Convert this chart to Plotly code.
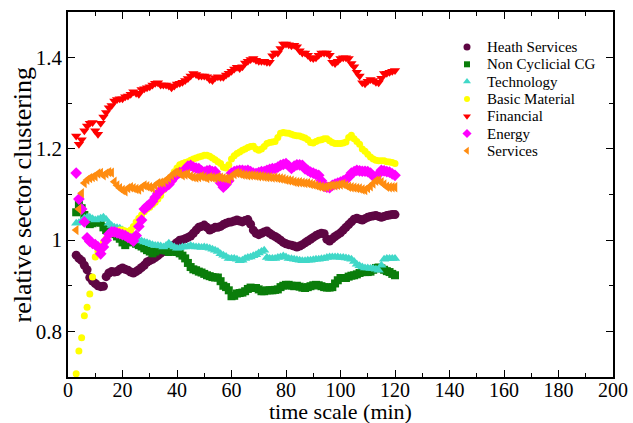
import plotly.graph_objects as go

time_min = list(range(3, 121))

heath_services = [
    0.967, 0.96, 0.955, 0.945, 0.935, 0.918, 0.91, 0.905, 0.9, 0.898,
    0.899, 0.92, 0.928, 0.931, 0.93, 0.931, 0.936, 0.939, 0.936, 0.934,
    0.93, 0.928, 0.931, 0.935, 0.94, 0.945, 0.952, 0.955, 0.958, 0.962,
    0.966, 0.971, 0.975, 0.978, 0.982, 0.986, 0.99, 0.995, 1.0, 1.001,
    1.003, 1.006, 1.009, 1.015, 1.022, 1.028, 1.03, 1.033, 1.028, 1.022,
    1.025, 1.028, 1.028, 1.03, 1.034, 1.037, 1.039, 1.04, 1.042, 1.044,
    1.042, 1.04, 1.043, 1.045, 1.035, 1.022, 1.015, 1.012, 1.015, 1.018,
    1.02, 1.015, 1.011, 1.008, 1.004, 1.0, 0.995, 0.992, 0.99, 0.989,
    0.987, 0.985, 0.987, 0.99, 0.994, 0.998, 1.002, 1.006, 1.01, 1.013,
    1.015, 1.014, 1.002, 0.998, 1.003, 1.008, 1.012, 1.016, 1.022, 1.028,
    1.034, 1.04, 1.046, 1.048, 1.046, 1.044, 1.047, 1.05, 1.052, 1.053,
    1.054, 1.052, 1.05, 1.052, 1.054, 1.055, 1.056, 1.056,
]

non_cyclical_cg = [
    1.061, 1.078, 1.07, 1.055, 1.045, 1.035, 1.037, 1.04, 1.04, 1.038,
    1.028, 1.022, 1.017, 1.015, 1.013, 1.008, 1.003, 0.995, 0.989, 0.995,
    1.0, 0.996, 0.992, 0.989, 0.986, 0.982, 0.978, 0.975, 0.971, 0.975,
    0.978, 0.98, 0.98, 0.977, 0.974, 0.975, 0.976, 0.974, 0.971, 0.966,
    0.96, 0.95, 0.941, 0.936, 0.934, 0.931, 0.929, 0.926, 0.923, 0.921,
    0.919, 0.918, 0.918, 0.91, 0.9, 0.897, 0.89, 0.877, 0.878, 0.883,
    0.884, 0.885, 0.888, 0.893, 0.896, 0.895, 0.895, 0.892, 0.888, 0.888,
    0.89, 0.89, 0.89, 0.891, 0.892, 0.897, 0.9, 0.902, 0.902, 0.9,
    0.899, 0.9, 0.898, 0.896, 0.895, 0.897, 0.899, 0.901, 0.902, 0.901,
    0.899, 0.897, 0.896, 0.896, 0.897, 0.905, 0.912, 0.917, 0.917, 0.917,
    0.92, 0.922, 0.923, 0.925, 0.928, 0.93, 0.93, 0.93, 0.931, 0.935,
    0.939, 0.94, 0.938, 0.935, 0.932, 0.93, 0.926, 0.923,
]

technology = [
    1.037, 1.038, 1.042, 1.048, 1.05, 1.05, 1.047, 1.044, 1.046, 1.048,
    1.05, 1.045, 1.037, 1.032, 1.028, 1.027, 1.026, 1.022, 1.018, 1.013,
    1.011, 1.008, 1.004, 1.0, 0.998, 0.996, 0.994, 0.992, 0.99, 0.988,
    0.988, 0.987, 0.985, 0.988, 0.993, 0.988, 0.985, 0.982, 0.983, 0.985,
    0.985, 0.986, 0.988, 0.986, 0.985, 0.985, 0.984, 0.985, 0.984, 0.982,
    0.98, 0.978, 0.975, 0.97, 0.967, 0.964, 0.96, 0.96, 0.96, 0.958,
    0.955, 0.956, 0.96, 0.962, 0.963, 0.966, 0.968, 0.972, 0.975, 0.978,
    0.962, 0.96, 0.96, 0.96, 0.962, 0.963, 0.965, 0.963, 0.96, 0.959,
    0.958, 0.957, 0.956, 0.955, 0.955, 0.956, 0.956, 0.957, 0.958, 0.958,
    0.959, 0.96, 0.962, 0.963, 0.963, 0.963, 0.963, 0.962, 0.962, 0.961,
    0.96, 0.958, 0.953, 0.947, 0.944, 0.941, 0.939, 0.939, 0.938, 0.938,
    0.936, 0.934, 0.945, 0.958, 0.96, 0.96, 0.96, 0.96,
]

basic_material = [
    0.707, 0.757, 0.786, 0.834, 0.853, 0.882, 0.919, 0.963, 0.975, 0.985,
    0.995, 1.003, 1.011, 1.015, 1.018, 1.02, 1.022, 1.022, 1.02, 1.018,
    1.022, 1.03, 1.04, 1.048, 1.055, 1.062, 1.068, 1.072, 1.078, 1.083,
    1.09, 1.098, 1.11, 1.122, 1.13, 1.138, 1.15, 1.158, 1.165, 1.168,
    1.17, 1.172, 1.175, 1.178, 1.18, 1.182, 1.184, 1.186, 1.186, 1.184,
    1.18, 1.176, 1.172, 1.168, 1.16, 1.158, 1.165, 1.178, 1.185, 1.19,
    1.193, 1.197, 1.2, 1.203, 1.205, 1.206, 1.2, 1.197, 1.2, 1.205,
    1.212, 1.214, 1.215, 1.216, 1.225, 1.234, 1.236, 1.235, 1.234, 1.232,
    1.23, 1.229, 1.228, 1.226, 1.224, 1.22, 1.214, 1.213, 1.216, 1.219,
    1.22, 1.222, 1.222, 1.218, 1.214, 1.212, 1.212, 1.212, 1.213, 1.215,
    1.225, 1.23, 1.222, 1.216, 1.21, 1.2, 1.195, 1.188, 1.182, 1.178,
    1.175, 1.174, 1.174, 1.174, 1.172, 1.171, 1.17, 1.168,
]

financial = [
    1.228, 1.21, 1.22, 1.24, 1.25, 1.256, 1.258, 1.24, 1.232, 1.256,
    1.27, 1.28, 1.29, 1.295, 1.305, 1.308, 1.31, 1.31, 1.314, 1.316,
    1.32, 1.325, 1.322, 1.32, 1.33, 1.332, 1.334, 1.336, 1.34, 1.344,
    1.345, 1.34, 1.34, 1.34, 1.338, 1.334, 1.338, 1.342, 1.344, 1.346,
    1.35, 1.354, 1.36, 1.365, 1.363, 1.36, 1.36, 1.36, 1.358, 1.352,
    1.35, 1.356, 1.358, 1.357, 1.357, 1.362, 1.366, 1.37, 1.375, 1.379,
    1.376, 1.38, 1.388, 1.392, 1.396, 1.398, 1.394, 1.392, 1.392, 1.392,
    1.39, 1.39, 1.404, 1.41, 1.41, 1.42, 1.43, 1.43, 1.428, 1.426,
    1.427, 1.424, 1.415, 1.41, 1.41, 1.405, 1.40, 1.398, 1.40, 1.405,
    1.41, 1.41, 1.41, 1.405, 1.39, 1.387, 1.392, 1.398, 1.40, 1.40,
    1.398, 1.387, 1.38, 1.368, 1.36, 1.345, 1.343, 1.348, 1.352, 1.35,
    1.346, 1.345, 1.355, 1.365, 1.366, 1.368, 1.37, 1.372,
]

energy = [
    1.147, 1.09, 1.068, 1.04, 1.005, 0.997, 0.993, 0.99, 0.985, 0.97,
    0.985, 1.0, 1.013, 1.018, 1.018, 1.016, 1.014, 1.012, 1.01, 1.006,
    1.003, 0.998, 1.01, 1.03, 1.044, 1.068, 1.074, 1.078, 1.085, 1.094,
    1.103, 1.108, 1.116, 1.118, 1.122, 1.13, 1.138, 1.145, 1.148, 1.149,
    1.155, 1.162, 1.164, 1.16, 1.158, 1.157, 1.152, 1.149, 1.152, 1.153,
    1.15, 1.15, 1.14, 1.125, 1.116, 1.122, 1.13, 1.147, 1.15, 1.152,
    1.153, 1.153, 1.152, 1.153, 1.15, 1.147, 1.146, 1.148, 1.15, 1.15,
    1.153, 1.155, 1.157, 1.157, 1.16, 1.164, 1.166, 1.168, 1.163, 1.157,
    1.162, 1.165, 1.165, 1.164, 1.156, 1.153, 1.149, 1.147, 1.144, 1.142,
    1.13, 1.118, 1.116, 1.115, 1.12, 1.123, 1.125, 1.127, 1.13, 1.133,
    1.138, 1.147, 1.15, 1.153, 1.152, 1.151, 1.151, 1.15, 1.147, 1.14,
    1.136, 1.145, 1.153, 1.152, 1.15, 1.149, 1.145, 1.142,
]

services = [
    1.022, 1.068, 1.103, 1.125, 1.132, 1.136, 1.138, 1.14, 1.146, 1.147,
    1.142, 1.146, 1.149, 1.148, 1.128, 1.12, 1.114, 1.11, 1.107, 1.114,
    1.116, 1.114, 1.112, 1.111, 1.116, 1.12, 1.118, 1.116, 1.114, 1.12,
    1.125, 1.126, 1.127, 1.132, 1.136, 1.142, 1.147, 1.149, 1.146, 1.142,
    1.144, 1.145, 1.14, 1.138, 1.137, 1.138, 1.14, 1.138, 1.136, 1.138,
    1.137, 1.136, 1.138, 1.137, 1.136, 1.135, 1.133, 1.14, 1.145, 1.147,
    1.146, 1.144, 1.143, 1.142, 1.142, 1.142, 1.141, 1.14, 1.14, 1.139,
    1.138, 1.138, 1.137, 1.137, 1.136, 1.135, 1.134, 1.132, 1.131, 1.13,
    1.128, 1.127, 1.127, 1.126, 1.125, 1.125, 1.123, 1.122, 1.12, 1.118,
    1.117, 1.116, 1.117, 1.119, 1.12, 1.12, 1.121, 1.122, 1.123, 1.12,
    1.117, 1.116, 1.115, 1.114, 1.113, 1.111, 1.11, 1.114, 1.118, 1.124,
    1.13, 1.131, 1.127, 1.122, 1.117, 1.116, 1.116, 1.116,
]

series_names = ["Heath Services", "Non Cyclicial CG", "Technology", "Basic Material",
                "Financial", "Energy", "Services"]
series_values = [heath_services, non_cyclical_cg, technology, basic_material,
                 financial, energy, services]

x_tick_vals = [0, 20, 40, 60, 80, 100, 120, 140, 160, 180, 200]
y_tick_vals = [0.8, 1.0, 1.2, 1.4]
y_tick_text = ["0.8", "1", "1.2", "1.4"]
x_title = "time scale (min)"
y_title = "relative sector clustering"

styles = [
    dict(symbol="circle", color="#5e0643", size=9, lsize=7),
    dict(symbol="square", color="#0a7d0a", size=8, lsize=6),
    dict(symbol="triangle-up", color="#40d8c8", size=9, lsize=7),
    dict(symbol="circle", color="#ffff00", size=7, lsize=6),
    dict(symbol="triangle-down", color="#ff0000", size=9, lsize=7),
    dict(symbol="diamond", color="#ff00ff", size=9, lsize=7),
    dict(symbol="triangle-left", color="#ff8c10", size=9, lsize=7),
]

serif = "Liberation Serif"

W, H = 633, 423
# plot area in pixels
PX_L, PX_R, PX_T, PX_B = 68, 613, 12, 377


def px_to_paper_x(px):
    return (px - PX_L) / (PX_R - PX_L)


def px_to_paper_y(py):
    return (PX_B - py) / (PX_B - PX_T)


key_x_marker = 467
key_x_text = 485
key_y0 = 47
key_dy = 17.3

fig = go.Figure()
for name, vals, st in zip(series_names, series_values, styles):
    n = min(len(time_min), len(vals))
    fig.add_trace(go.Scatter(
        x=time_min[:n], y=vals[:n], mode="markers", name=name,
        marker=dict(symbol=st["symbol"], color=st["color"], size=st["size"],
                    line=dict(width=0)),
        showlegend=False,
    ))

# key (legend) drawn on an overlay axis whose units are pixels
for i, (name, st) in enumerate(zip(series_names, styles)):
    ky = key_y0 + i * key_dy
    fig.add_trace(go.Scatter(
        x=[key_x_marker], y=[ky], mode="markers", xaxis="x2", yaxis="y2",
        marker=dict(symbol=st["symbol"], color=st["color"], size=st["lsize"], line=dict(width=0)),
        showlegend=False, hoverinfo="skip",
    ))
    fig.add_annotation(x=key_x_text, y=ky, xref="x2", yref="y2", text=name,
                       showarrow=False, xanchor="left", yanchor="middle",
                       font=dict(family=serif, size=15, color="black"))

# axis titles
fig.add_annotation(x=0.5, y=px_to_paper_y(411.5), xref="paper", yref="paper", text=x_title,
                   showarrow=False, xanchor="center", yanchor="middle",
                   font=dict(family=serif, size=22, color="black"))
fig.add_annotation(x=px_to_paper_x(22), y=0.5, xref="paper", yref="paper", text=y_title,
                   showarrow=False, xanchor="center", yanchor="middle", textangle=-90,
                   font=dict(family=serif, size=26, color="black"))

fig.update_layout(
    width=W, height=H,
    margin=dict(l=PX_L, r=W - PX_R, t=PX_T, b=H - PX_B),
    paper_bgcolor="white", plot_bgcolor="white",
    font=dict(family=serif, color="black", size=18),
    showlegend=False,
    xaxis=dict(range=[0, 200], tickvals=x_tick_vals, ticks="inside", ticklen=7,
               tickwidth=1, tickcolor="black", automargin=False, ticklabelstandoff=-6,
               minor=dict(dtick=10, ticks="inside", ticklen=4, tickcolor="black", showgrid=False),
               showline=True, linecolor="black", linewidth=1.5, mirror="ticks",
               showgrid=False, zeroline=False,
               tickfont=dict(family=serif, size=20)),
    yaxis=dict(range=[0.7, 1.5], tickvals=y_tick_vals, ticktext=y_tick_text,
               ticks="inside", ticklen=7, tickwidth=1, tickcolor="black", automargin=False,
               minor=dict(dtick=0.1, ticks="inside", ticklen=4, tickcolor="black", showgrid=False),
               showline=True, linecolor="black", linewidth=1.5, mirror="ticks",
               showgrid=False, zeroline=False,
               tickfont=dict(family=serif, size=21)),
    xaxis2=dict(overlaying="x", range=[PX_L, PX_R], visible=False, fixedrange=True),
    yaxis2=dict(overlaying="y", range=[PX_B, PX_T], visible=False, fixedrange=True),
)

fig.write_html(
    "out.html",
    config={"displayModeBar": False},
    post_script="document.body.style.margin='0';document.body.style.overflow='hidden';",
)
